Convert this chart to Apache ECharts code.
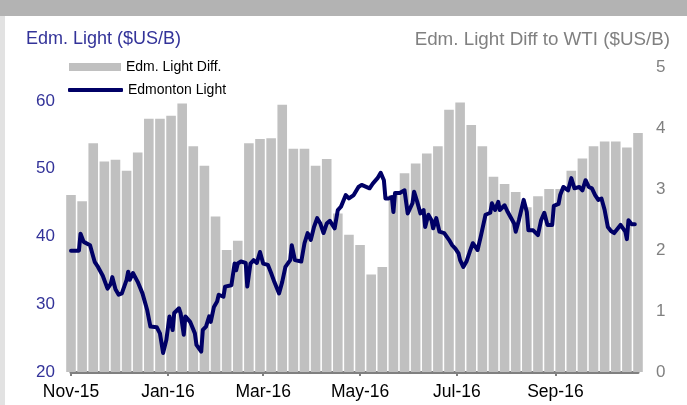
<!DOCTYPE html>
<html>
<head>
<meta charset="utf-8">
<title>Edmonton Light</title>
<script src="https://cdn.jsdelivr.net/npm/echarts@6/dist/echarts.min.js"></script>
<style>
  html, body { margin: 0; padding: 0; background: #fff; }
  #chart { width: 687px; height: 405px; }
</style>
</head>
<body>
<div id="chart"></div>
<script>
// x axis ticks (every two months)
const tickDates = ['2015-11-01', '2016-01-01', '2016-03-01', '2016-05-01', '2016-07-01', '2016-09-01'];
const tickLabels = ['Nov-15', 'Jan-16', 'Mar-16', 'May-16', 'Jul-16', 'Sep-16'];

// Edm. Light diff to WTI, weekly ($US/B, right axis)
const diffDates = [
  '2015-11-01', '2015-11-08', '2015-11-15', '2015-11-22', '2015-11-29', '2015-12-06', '2015-12-13', '2015-12-20', '2015-12-27',
  '2016-01-03', '2016-01-10', '2016-01-17', '2016-01-24', '2016-01-31', '2016-02-07', '2016-02-14', '2016-02-21', '2016-02-28',
  '2016-03-06', '2016-03-13', '2016-03-20', '2016-03-27', '2016-04-03', '2016-04-10', '2016-04-17', '2016-04-24', '2016-05-01',
  '2016-05-08', '2016-05-15', '2016-05-22', '2016-05-29', '2016-06-05', '2016-06-12', '2016-06-19', '2016-06-26', '2016-07-03',
  '2016-07-10', '2016-07-17', '2016-07-24', '2016-07-31', '2016-08-07', '2016-08-14', '2016-08-21', '2016-08-28', '2016-09-04',
  '2016-09-11', '2016-09-18', '2016-09-25', '2016-10-02', '2016-10-09', '2016-10-16', '2016-10-23'
];
const diffValues = [
  2.90, 2.80, 3.75, 3.45, 3.48, 3.30, 3.60, 4.15, 4.15,
  4.20, 4.40, 3.70, 3.38, 2.55, 2.00, 2.15, 3.75, 3.82,
  3.83, 4.38, 3.66, 3.66, 3.38, 3.49, 2.60, 2.25, 2.08,
  1.60, 1.72, 2.90, 3.26, 3.42, 3.58, 3.70, 4.30, 4.42,
  4.05, 3.70, 3.20, 3.08, 2.95, 2.70, 2.88, 3.00, 3.00,
  3.30, 3.50, 3.70, 3.78, 3.78, 3.68, 3.92
];

// Edmonton Light price ($US/B, left axis)
const lightDates = [
  '2015-11-01', '2015-11-06', '2015-11-07', '2015-11-09', '2015-11-13', '2015-11-15', '2015-11-16', '2015-11-18', '2015-11-21', '2015-11-24', '2015-11-26', '2015-11-27', '2015-11-29',
  '2015-12-01', '2015-12-03', '2015-12-06', '2015-12-07', '2015-12-08', '2015-12-10', '2015-12-13', '2015-12-16', '2015-12-19', '2015-12-21', '2015-12-25', '2015-12-27', '2015-12-29', '2015-12-31',
  '2016-01-02', '2016-01-04', '2016-01-05', '2016-01-08', '2016-01-09', '2016-01-11', '2016-01-12', '2016-01-15', '2016-01-18', '2016-01-19', '2016-01-22', '2016-01-23', '2016-01-25', '2016-01-27', '2016-01-28', '2016-01-30',
  '2016-02-01', '2016-02-02', '2016-02-05', '2016-02-06', '2016-02-10', '2016-02-12', '2016-02-13', '2016-02-14', '2016-02-16', '2016-02-19', '2016-02-20', '2016-02-22', '2016-02-24', '2016-02-26', '2016-02-28',
  '2016-03-01', '2016-03-04', '2016-03-06', '2016-03-08', '2016-03-11', '2016-03-13', '2016-03-15', '2016-03-18', '2016-03-19', '2016-03-21', '2016-03-25', '2016-03-27', '2016-03-29', '2016-03-31',
  '2016-04-02', '2016-04-04', '2016-04-06', '2016-04-08', '2016-04-10', '2016-04-12', '2016-04-15', '2016-04-17', '2016-04-19', '2016-04-22', '2016-04-24', '2016-04-27', '2016-04-30',
  '2016-05-02', '2016-05-07', '2016-05-09', '2016-05-12', '2016-05-14', '2016-05-16', '2016-05-17', '2016-05-19', '2016-05-21', '2016-05-22', '2016-05-23', '2016-05-26', '2016-05-29', '2016-05-31',
  '2016-06-03', '2016-06-04', '2016-06-06', '2016-06-08', '2016-06-10', '2016-06-11', '2016-06-13', '2016-06-15', '2016-06-16', '2016-06-18', '2016-06-20', '2016-06-23', '2016-06-26', '2016-06-28', '2016-06-30',
  '2016-07-02', '2016-07-03', '2016-07-05', '2016-07-07', '2016-07-09', '2016-07-11', '2016-07-14', '2016-07-16', '2016-07-19', '2016-07-22', '2016-07-23', '2016-07-25', '2016-07-27', '2016-07-28', '2016-07-31',
  '2016-08-02', '2016-08-06', '2016-08-07', '2016-08-09', '2016-08-12', '2016-08-14', '2016-08-15', '2016-08-18', '2016-08-21', '2016-08-23', '2016-08-25', '2016-08-27', '2016-08-30', '2016-08-31',
  '2016-09-03', '2016-09-04', '2016-09-06', '2016-09-09', '2016-09-11', '2016-09-13', '2016-09-16', '2016-09-18', '2016-09-20', '2016-09-22', '2016-09-24', '2016-09-26', '2016-09-28', '2016-09-30',
  '2016-10-02', '2016-10-04', '2016-10-06', '2016-10-08', '2016-10-12', '2016-10-15', '2016-10-16', '2016-10-17', '2016-10-19', '2016-10-21'
];
const lightValues = [
  37.9, 37.9, 40.4, 39.2, 38.7, 37.0, 36.2, 35.5, 34.2, 32.3, 33.0, 34.0, 32.2,
  31.4, 31.6, 33.6, 34.8, 33.6, 34.6, 33.3, 31.6, 29.1, 26.7, 26.6, 25.7, 22.8, 24.7,
  28.2, 26.2, 28.7, 29.4, 28.7, 25.5, 28.2, 27.4, 25.7, 24.0, 23.0, 26.2, 26.7, 28.2, 27.4, 29.6,
  30.4, 31.4, 31.1, 32.6, 32.8, 36.0, 35.0, 36.0, 36.3, 36.1, 32.6, 36.0, 36.5, 36.1, 37.7,
  36.0, 35.8, 34.6, 33.3, 31.6, 33.3, 35.5, 36.5, 38.7, 36.5, 36.3, 39.0, 40.5, 39.5,
  41.4, 42.7, 41.9, 40.5, 41.9, 42.3, 41.2, 43.9, 44.4, 46.1, 45.6, 46.1, 47.3,
  47.6, 47.1, 47.8, 48.6, 49.4, 48.3, 45.6, 45.6, 45.8, 43.6, 46.4, 46.4, 46.8, 43.4,
  44.9, 46.6, 45.1, 43.4, 43.9, 41.4, 43.2, 42.4, 41.2, 42.7, 40.7, 40.5, 39.5, 38.7, 38.2,
  37.5, 36.5, 35.5, 36.3, 37.7, 39.0, 38.0, 40.0, 43.2, 43.5, 44.9, 43.9, 45.1, 43.9, 44.6,
  43.6, 41.9, 40.7, 42.4, 45.4, 43.6, 40.9, 40.9, 40.2, 42.4, 43.5, 41.7, 41.7, 44.5,
  44.8, 46.1, 47.3, 46.8, 48.6, 47.1, 47.3, 46.8, 48.3, 47.3, 47.1, 46.1, 45.4, 45.6,
  43.9, 41.4, 40.8, 40.5, 41.7, 40.7, 39.6, 42.4, 41.8, 41.8
];

const FONT = "'Liberation Sans', Arial, sans-serif";
// dates become timestamps on a plain value axis, so the ticks can sit on month starts
const toTime = (s) => echarts.time.parse(s).getTime();
const tickTimes = tickDates.map(toTime);

const chart = echarts.init(document.getElementById('chart'), null, { renderer: 'canvas' });

const legendText = { fontSize: 14, color: '#000', fontFamily: FONT };

chart.setOption({
  animation: false,
  backgroundColor: '#fff',
  textStyle: { fontFamily: FONT },
  grid: { left: 71, right: 49, top: 67, bottom: 33 },
  graphic: [
    { type: 'rect', shape: { x: 0, y: 0, width: 687, height: 16 }, style: { fill: '#b3b3b3' }, silent: true },
    { type: 'rect', shape: { x: 0, y: 16, width: 5, height: 389 }, style: { fill: '#e2e2e2' }, silent: true },
    {
      type: 'text', left: 26, top: 30,
      style: { text: 'Edm. Light ($US/B)', fill: '#333399', font: '18px ' + FONT }
    },
    {
      type: 'text', right: 17, top: 30,
      style: { text: 'Edm. Light Diff to WTI ($US/B)', fill: '#808080', font: '18.8px ' + FONT }
    }
  ],
  // two legends so the bar swatch and the line swatch can have their own heights
  legend: [
    {
      left: 64,
      top: 55,
      itemWidth: 52,
      itemHeight: 8,
      textStyle: legendText,
      data: [{ name: 'Edm. Light Diff.', icon: 'rect' }]
    },
    {
      left: 63,
      top: 78,
      itemWidth: 55,
      itemHeight: 4,
      textStyle: legendText,
      data: [{ name: 'Edmonton Light', icon: 'roundRect' }]
    }
  ],
  xAxis: {
    type: 'value',
    min: toTime('2015-11-01'),
    max: toTime('2016-10-23'),
    axisLine: { lineStyle: { color: '#808080', width: 3 } },
    axisTick: { show: true, customValues: tickTimes, length: 4, lineStyle: { color: '#808080', width: 2 } },
    axisLabel: {
      customValues: tickTimes,
      formatter: (v) => {
        const i = tickTimes.indexOf(v);
        return i < 0 ? '' : tickLabels[i];
      },
      color: '#000',
      fontSize: 17.5,
      margin: 11,
      fontFamily: FONT
    },
    splitLine: { show: false }
  },
  yAxis: [
    {
      type: 'value',
      position: 'left',
      min: 20,
      max: 65,
      interval: 10,
      axisLine: { show: false },
      axisTick: { show: false },
      splitLine: { show: false },
      axisLabel: { color: '#333399', fontSize: 17, margin: 16, showMaxLabel: false, fontFamily: FONT }
    },
    {
      type: 'value',
      position: 'right',
      min: 0,
      max: 5,
      interval: 1,
      axisLine: { show: false },
      axisTick: { show: false },
      splitLine: { show: false },
      axisLabel: { color: '#808080', fontSize: 17, margin: 18, fontFamily: FONT }
    }
  ],
  series: [
    {
      name: 'Edm. Light Diff.',
      type: 'bar',
      yAxisIndex: 1,
      barWidth: 9.6,
      clip: true,
      itemStyle: { color: '#c0c0c0' },
      data: diffDates.map((d, i) => [toTime(d), diffValues[i]])
    },
    {
      name: 'Edmonton Light',
      type: 'line',
      yAxisIndex: 0,
      symbol: 'none',
      z: 3,
      itemStyle: { color: '#000066' },
      lineStyle: { color: '#000066', width: 4, cap: 'round', join: 'round' },
      data: lightDates.map((d, i) => [toTime(d), lightValues[i]])
    }
  ]
});
</script>
</body>
</html>
